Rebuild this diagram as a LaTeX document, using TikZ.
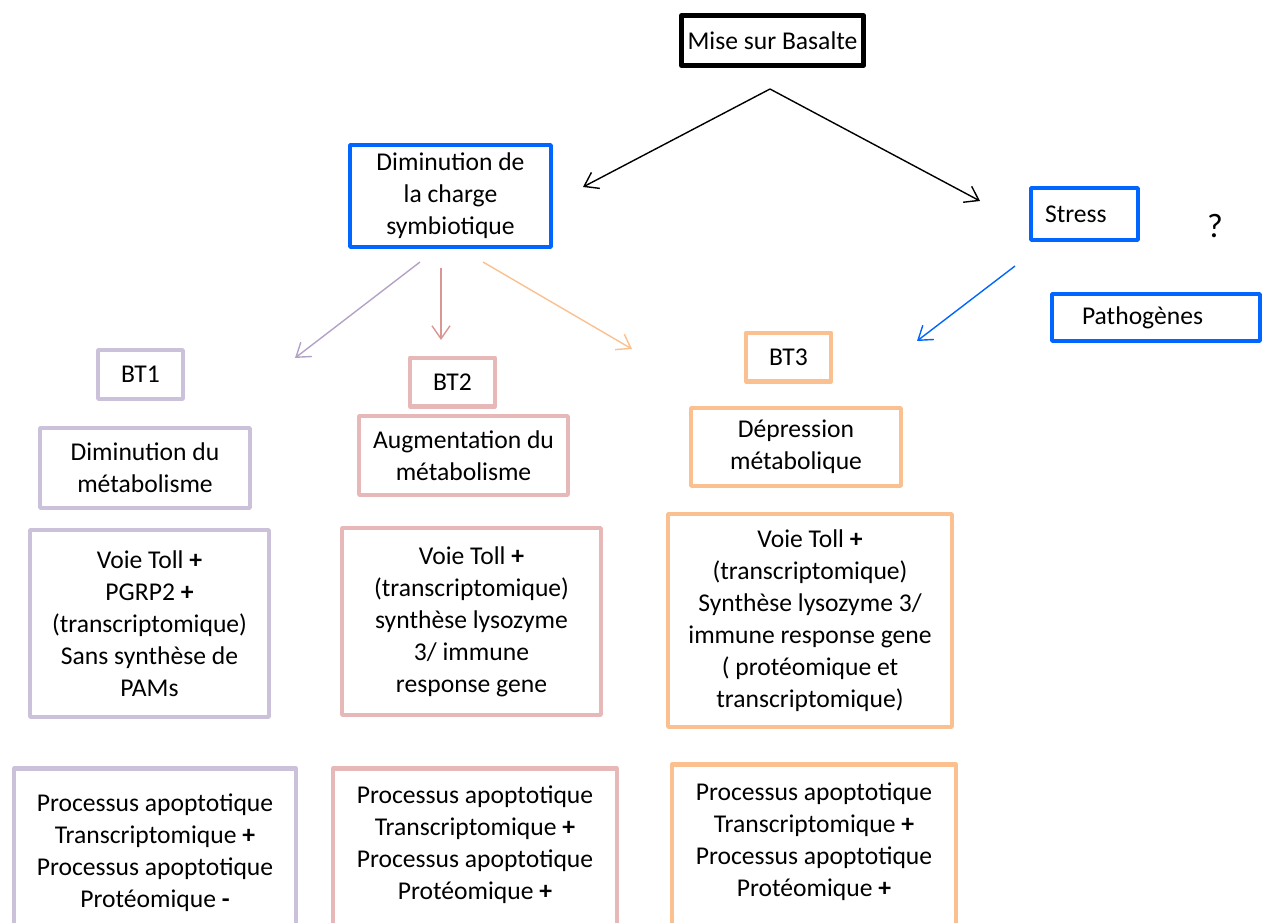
\documentclass[tikz,border=0pt]{standalone}
\usepackage{fontspec}
\setmainfont{Carlito}
\usetikzlibrary{arrows.meta,positioning,calc}

\begin{document}
\begin{tikzpicture}[x=0.5pt,y=-0.5pt,>={Straight Barb[length=6.5pt,width=9pt]},
    every node/.style={font=\fontsize{12.8}{16}\selectfont, align=center},
    box/.style={draw=#1, line width=2.2pt, line join=round, inner sep=3pt},
    link/.style={draw=#1, line width=0.7pt, ->}]
  \definecolor{cLav}{HTML}{CCC1DA}\definecolor{cPink}{HTML}{E6B9B8}
  \definecolor{cOrange}{HTML}{FAC090}\definecolor{cBlue}{HTML}{0066FF}
  \definecolor{aLav}{HTML}{B3A2C7}\definecolor{aPink}{HTML}{D99694}
  \useasboundingbox (0,0) rectangle (1264,922);
  \clip (0,0) rectangle (1264,922);
  \node[box=black, line width=2.7pt, minimum width=89.8pt, minimum height=24.8pt] (mise) at (772.5,40.5) {Mise sur Basalte};
  \node[box=cBlue, minimum width=100.3pt, minimum height=50.8pt] (charge) at (450.5,196) {Diminution de\\la charge\\symbiotique};
  \node[box=cBlue, minimum width=53.3pt, minimum height=25.8pt, text width=39.5pt, inner xsep=6.9pt, align=left] (stress) at (1084.5,214) {Stress};
  \node[font=\fontsize{17}{20}\selectfont] (quest) at (1215,226) {?};
  \node[box=cBlue, minimum width=103.8pt, minimum height=23.3pt, text width=74pt, inner xsep=14.9pt, align=left] (patho) at (1156,317.5) {Pathogènes};
  \node[box=cLav, minimum width=42.3pt, minimum height=24.3pt] (bt1) at (140.5,374.5) {BT1};
  \node[box=cPink, minimum width=42.3pt, minimum height=24.3pt] (bt2) at (452.5,382) {BT2};
  \node[box=cOrange, minimum width=42.3pt, minimum height=24.3pt] (bt3) at (788.5,357) {BT3};
  \node[box=cLav, minimum width=104.8pt, minimum height=39.8pt] (meta1) at (145,468) {Diminution du\\métabolisme};
  \node[box=cPink, minimum width=104.3pt, minimum height=39.3pt] (meta2) at (463.5,455.5) {Augmentation du\\métabolisme};
  \node[box=cOrange, minimum width=104.8pt, minimum height=38.8pt] (meta3) at (796,447) {Dépression\\métabolique};
  \node[box=cLav, minimum width=119.3pt, minimum height=93.3pt] (toll1) at (149.5,623.5) {Voie Toll \textbf{+}\\PGRP2 \textbf{+}\\(transcriptomique)\\Sans synthèse de\\PAMs};
  \node[box=cPink, minimum width=129.3pt, minimum height=93.3pt] (toll2) at (471.5,621.5) {Voie Toll \textbf{+}\\(transcriptomique)\\synthèse lysozyme\\3/ immune\\response gene};
  \node[box=cOrange, minimum width=141.8pt, minimum height=106.3pt] (toll3) at (810,620.5) {Voie Toll \textbf{+}\\(transcriptomique)\\Synthèse lysozyme 3/\\immune response gene\\( protéomique et\\transcriptomique)};
  \node[box=cLav, anchor=north, minimum width=140.8pt, inner ysep=4pt, text height=65.4pt, text depth=70pt] (apo1) at (155,766.2) {Processus apoptotique\\Transcriptomique \textbf{+}\\Processus apoptotique\\Protéomique \textbf{-}};
  \node[box=cPink, anchor=north, minimum width=141.8pt, inner ysep=4pt, text height=61.4pt, text depth=70pt] (apo2) at (475,766.2) {Processus apoptotique\\Transcriptomique \textbf{+}\\Processus apoptotique\\Protéomique \textbf{+}};
  \node[box=cOrange, anchor=north, minimum width=141.8pt, inner ysep=4pt, text height=61.9pt, text depth=70pt] (apo3) at (814,762.2) {Processus apoptotique\\Transcriptomique \textbf{+}\\Processus apoptotique\\Protéomique \textbf{+}};
  \coordinate (fork) at (770,89);
  \coordinate (toCharge) at (583,187);
  \coordinate (toStress) at (980,201);
  \coordinate (lavFrom) at (420,262);
  \coordinate (lavTo) at (295,358);
  \coordinate (pinkFrom) at (441,268);
  \coordinate (pinkTo) at (441,340);
  \coordinate (orFrom) at (483,262);
  \coordinate (orTo) at (632,349);
  \coordinate (blueFrom) at (1015,266);
  \coordinate (blueTo) at (917,341);
  \draw[link=black] (fork) -- (toCharge);
  \draw[link=black] (fork) -- (toStress);
  \draw[link=aLav] (lavFrom) -- (lavTo);
  \draw[link=aPink] (pinkFrom) -- (pinkTo);
  \draw[link=cOrange] (orFrom) -- (orTo);
  \draw[link=cBlue] (blueFrom) -- (blueTo);
\end{tikzpicture}
\end{document}
